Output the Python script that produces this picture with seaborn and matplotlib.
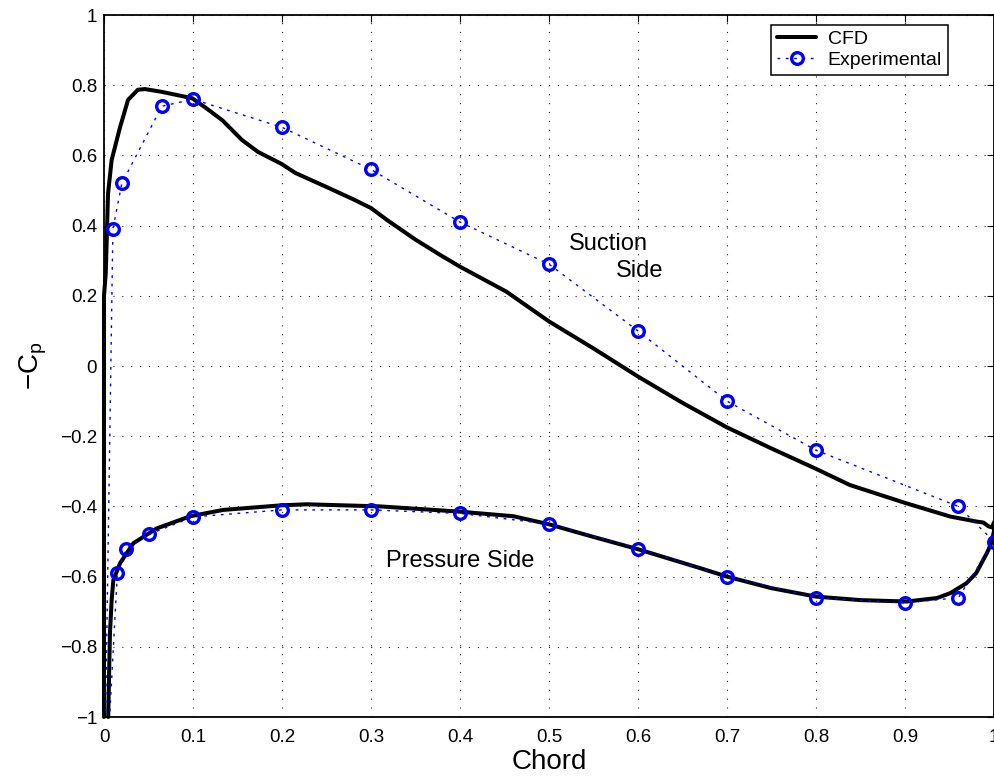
import numpy as np
import pandas as pd
import matplotlib
matplotlib.use("Agg")
import matplotlib.pyplot as plt
import seaborn as sns

# ---------------- data ----------------
cfd_x = [0.0, 0.0, 0.002, 0.0045, 0.0086, 0.018, 0.027, 0.038, 0.046, 0.065, 0.099,
         0.113, 0.133, 0.155, 0.173, 0.2, 0.215, 0.25, 0.28, 0.30, 0.318, 0.35, 0.378,
         0.4, 0.452, 0.5, 0.55, 0.6, 0.65, 0.7, 0.75, 0.8, 0.838, 0.9, 0.951, 0.98,
         0.988, 0.994, 0.998, 1.0,
         1.0, 0.997, 0.992, 0.98, 0.969, 0.951, 0.936, 0.902, 0.85, 0.8, 0.75, 0.7,
         0.67, 0.6, 0.55, 0.5, 0.46, 0.4, 0.31, 0.228, 0.199, 0.134, 0.097, 0.059,
         0.033, 0.018, 0.0105, 0.0086, 0.0067, 0.0047]
cfd_y = [-1.0, 0.2, 0.265, 0.49, 0.587, 0.68, 0.758, 0.787, 0.789, 0.781, 0.763,
         0.738, 0.70, 0.644, 0.61, 0.575, 0.55, 0.51, 0.475, 0.45, 0.416, 0.36, 0.316,
         0.283, 0.212, 0.127, 0.05, -0.03, -0.105, -0.175, -0.235, -0.293, -0.339, -0.39, -0.429, -0.443,
         -0.446, -0.457, -0.46, -0.445,
         -0.47, -0.505, -0.533, -0.59, -0.619, -0.647, -0.661, -0.671, -0.667, -0.657, -0.633, -0.600,
         -0.576, -0.522, -0.487, -0.451, -0.428, -0.415, -0.40, -0.394, -0.397, -0.41, -0.428, -0.463,
         -0.505, -0.562, -0.61, -0.667, -0.76, -1.0]

exp_x = [0.0, 0.01, 0.02, 0.065, 0.10, 0.20, 0.30, 0.40, 0.50, 0.60, 0.70, 0.80, 0.96, 1.00,
         0.96, 0.90, 0.80, 0.70, 0.60, 0.50, 0.40, 0.30, 0.20, 0.10, 0.05, 0.025, 0.015, 0.0]
exp_y = [-1.3, 0.39, 0.52, 0.74, 0.76, 0.68, 0.56, 0.41, 0.29, 0.10, -0.10, -0.24, -0.40, -0.50,
         -0.66, -0.675, -0.66, -0.60, -0.52, -0.45, -0.42, -0.41, -0.41, -0.43, -0.48, -0.52, -0.59, -1.3]

xticks = [0, 0.1, 0.2, 0.3, 0.4, 0.5, 0.6, 0.7, 0.8, 0.9, 1.0]
xtick_labels = ["0", "0.1", "0.2", "0.3", "0.4", "0.5", "0.6", "0.7", "0.8", "0.9", "1"]
yticks = [-1, -0.8, -0.6, -0.4, -0.2, 0, 0.2, 0.4, 0.6, 0.8, 1]
ytick_labels = ["\u22121", "\u22120.8", "\u22120.6", "\u22120.4", "\u22120.2", "0",
                "0.2", "0.4", "0.6", "0.8", "1"]

series_labels = ["CFD", "Experimental"]
annotations = [("Suction", 0.522, 0.330), ("Side", 0.575, 0.253), ("Pressure Side", 0.317, -0.572)]
xlabel = "Chord"
ylabel = r"$-C_p$"

# ---------------- style ----------------
sns.set_style("white")
plt.rcParams["font.family"] = ["Liberation Sans", "DejaVu Sans"]
plt.rcParams["mathtext.fontset"] = "custom"
plt.rcParams["mathtext.rm"] = "Liberation Sans"
plt.rcParams["mathtext.it"] = "Liberation Sans"
plt.rcParams["mathtext.default"] = "regular"
plt.rcParams["text.color"] = "black"
plt.rcParams["axes.labelcolor"] = "black"
plt.rcParams["xtick.color"] = "black"
plt.rcParams["ytick.color"] = "black"

fig = plt.figure(figsize=(9.94, 7.77), dpi=100)
ax = fig.add_axes([104 / 994, 1 - 717 / 777, 890 / 994, 702 / 777])

cfd_df = pd.DataFrame({"x": cfd_x, "y": cfd_y})
exp_df = pd.DataFrame({"x": exp_x, "y": exp_y})

sns.lineplot(data=cfd_df, x="x", y="y", sort=False, estimator=None, ax=ax,
             color="black", linewidth=2.9, label=series_labels[0], clip_on=False, zorder=3)
sns.lineplot(data=exp_df, x="x", y="y", sort=False, estimator=None, ax=ax,
             color="#0000ff", linewidth=1.0, dashes=False, linestyle=(0, (2, 4)),
             marker="o", markersize=8.4, markerfacecolor="none", markeredgecolor="#0000ff",
             markeredgewidth=2.4, label=series_labels[1], zorder=4)

ax.set_xlim(0, 1)
ax.set_ylim(-1, 1)
ax.set_xticks(xticks)
ax.set_xticklabels(xtick_labels)
ax.set_yticks(yticks)
ax.set_yticklabels(ytick_labels)
ax.tick_params(direction="in", top=True, right=True, length=5, width=0.8,
               labelsize=13.5, colors="black", labelcolor="black")
ax.tick_params(axis="x", pad=9)
ax.tick_params(axis="y", pad=5)
ax.grid(True, color="#222222", linestyle=(0, (1, 7)), linewidth=0.8)
for s in ax.spines.values():
    s.set_linewidth(1.3)
    s.set_color("black")

ax.set_xlabel(xlabel, fontsize=20, labelpad=2, color="black")
ax.set_ylabel(ylabel, fontsize=20, labelpad=8, color="black")

for txt, tx, ty in annotations:
    ax.text(tx, ty, txt, fontsize=17, ha="left", va="baseline", color="black")

leg = ax.legend(loc="upper right", bbox_to_anchor=(0.948, 0.986), borderaxespad=0,
                fontsize=14, frameon=True, fancybox=False, framealpha=1,
                edgecolor="black", borderpad=0.3, labelspacing=0.15,
                handlelength=2.0, handletextpad=0.6)
leg.get_frame().set_linewidth(1.1)
for t in leg.get_texts():
    t.set_color("black")

fig.savefig("out.png", dpi=100)
